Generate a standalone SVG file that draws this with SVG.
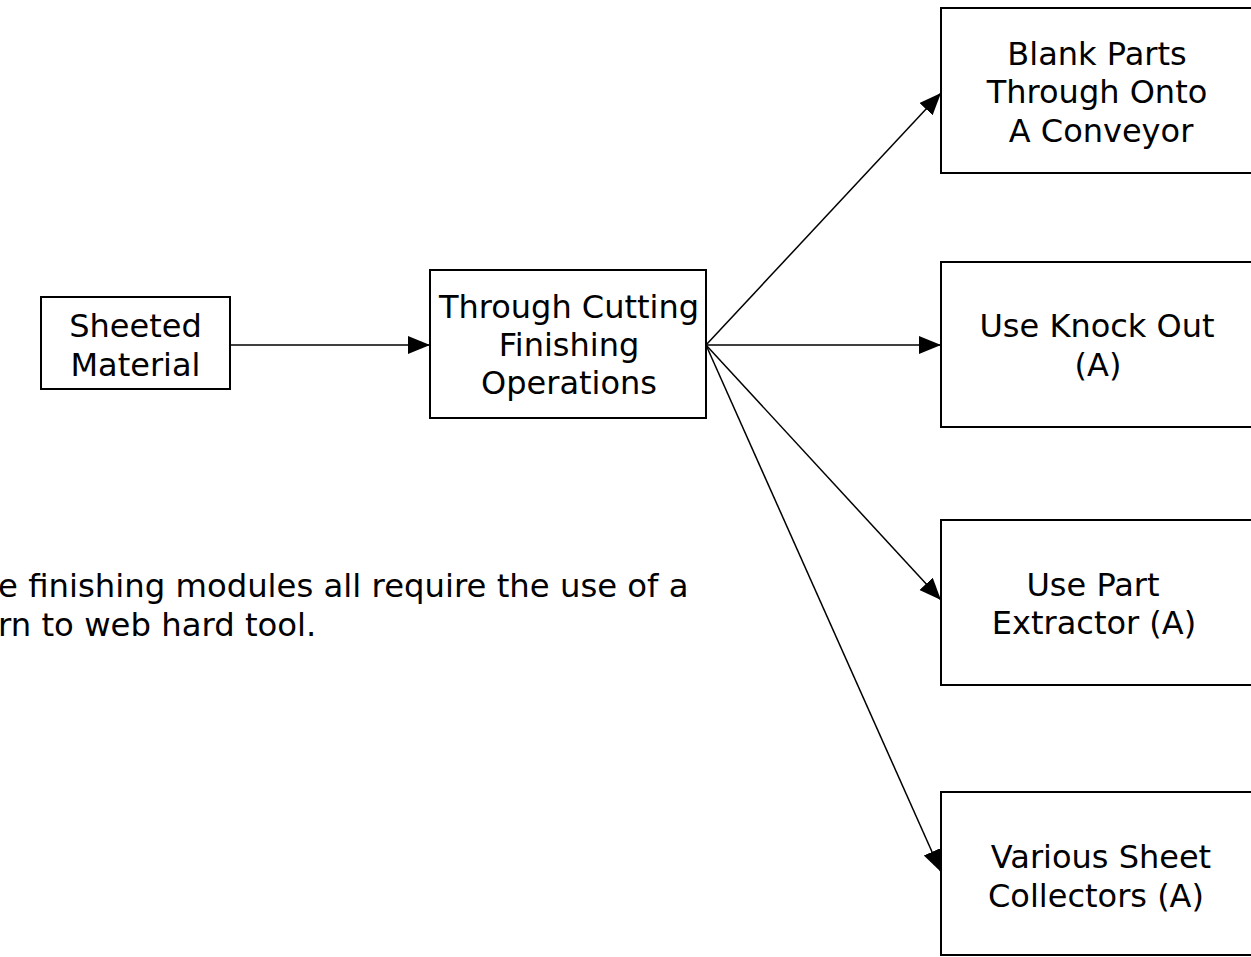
<svg xmlns="http://www.w3.org/2000/svg" width="1251" height="957" viewBox="0 0 1251 957">
<style>
.box{fill:#fff;stroke:#000;stroke-width:2}
.t{font-family:"DejaVu Sans",Verdana,sans-serif;font-size:32px;fill:#000;text-anchor:middle}
.n{font-family:"DejaVu Sans",Verdana,sans-serif;font-size:32.3px;fill:#000}
.c{stroke:#000;stroke-width:1.5;fill:none;marker-end:url(#ah)}
</style>
<defs>
<marker id="ah" markerUnits="userSpaceOnUse" markerWidth="24" markerHeight="20" refX="22" refY="9" orient="auto">
<path d="M0,0 L22,9 L0,18 z" fill="#000"/>
</marker>
</defs>
<rect width="1251" height="957" fill="#fff"/>
<g id="connectors">
<line class="c" x1="230" y1="345" x2="430" y2="345"/>
<line class="c" x1="706" y1="345" x2="941" y2="93"/>
<line class="c" x1="706" y1="345" x2="941" y2="345"/>
<line class="c" x1="706" y1="345" x2="941" y2="600"/>
<line class="c" x1="706" y1="345" x2="941" y2="872"/>
</g>
<g id="sheeted">
<rect class="box" x="41" y="297" width="189" height="92"/>
<text class="t" x="135.5" y="337">Sheeted</text>
<text class="t" x="135.5" y="376">Material</text>
</g>
<g id="through">
<rect class="box" x="430" y="270" width="276" height="148"/>
<text class="t" x="569" y="318">Through Cutting</text>
<text class="t" x="569" y="356">Finishing</text>
<text class="t" x="569" y="394">Operations</text>
</g>
<g id="blank">
<rect class="box" x="941" y="8" width="330" height="165"/>
<text class="t" x="1097" y="65">Blank Parts</text>
<text class="t" x="1097" y="103">Through Onto</text>
<text class="t" x="1101" y="142">A Conveyor</text>
</g>
<g id="knockout">
<rect class="box" x="941" y="262" width="330" height="165"/>
<text class="t" x="1097" y="337">Use Knock Out</text>
<text class="t" x="1098" y="376">(A)</text>
</g>
<g id="extractor">
<rect class="box" x="941" y="520" width="330" height="165"/>
<text class="t" x="1093" y="596">Use Part</text>
<text class="t" x="1094" y="634">Extractor (A)</text>
</g>
<g id="collectors">
<rect class="box" x="941" y="792" width="330" height="163"/>
<text class="t" x="1101" y="868">Various Sheet</text>
<text class="t" x="1096" y="907">Collectors (A)</text>
</g>
<g id="note">
<text class="n" x="-2" y="597">e finishing modules all require the use of a</text>
<text class="n" x="-2" y="636">rn to web hard tool.</text>
</g>
</svg>
